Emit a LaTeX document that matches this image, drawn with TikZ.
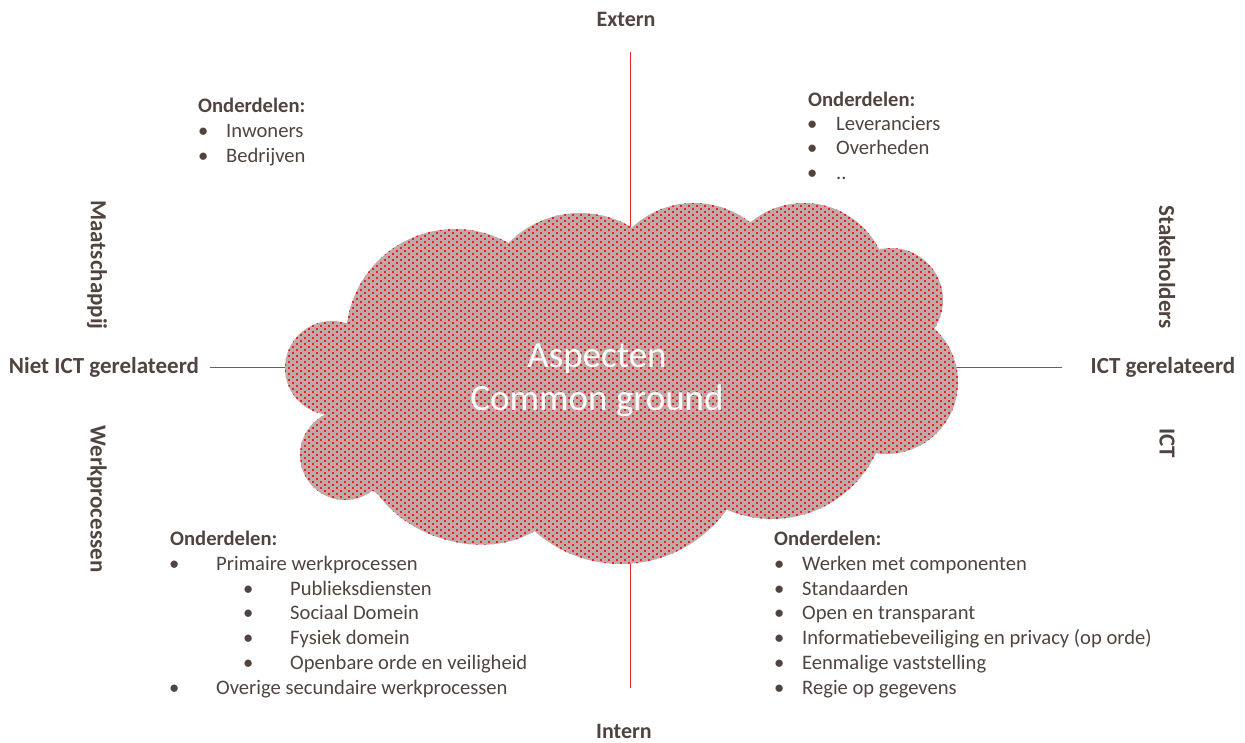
\documentclass[tikz,border=0pt]{standalone}
\usepackage{fontspec}
\setmainfont{Carlito}
\definecolor{textcol}{HTML}{4F4440}
\definecolor{linecol}{HTML}{E8262E}
\definecolor{cloudfill}{HTML}{C0AAA7}
\definecolor{dotred}{HTML}{EE1C24}
\newcommand\cloudshape{(332,368) circle (47) (345,455) circle (45) (455,338) circle (109)
  (580,313) circle (100) (694,294) circle (91) (804,287) circle (84) (891,300) circle (52)
  (886,382) circle (72) (772,404) circle (115) (621,434) circle (130)
  (600,380) circle (150) (760,370) circle (110) (420,420) circle (85)
  (465,462) circle [x radius=105, y radius=80, rotate=-18]}
\begin{document}
\begin{tikzpicture}[x=1pt,y=-1pt,
  txt/.style={anchor=base west,inner sep=0pt,text=textcol,font=\fontsize{20.6}{24}\selectfont},
  hdr/.style={anchor=base west,inner sep=0pt,text=textcol,font=\fontsize{20.6}{24}\selectfont\bfseries},
  axislabel/.style={inner sep=0pt,text=textcol,font=\fontsize{23}{27}\selectfont\bfseries},
  axislabelv/.style={inner sep=0pt,text=textcol,font=\fontsize{22}{26}\selectfont\bfseries},
  axisline/.style={draw=linecol,line width=1.3pt},
  dotrow/.style={draw=dotred,line width=2pt,dash pattern=on 2pt off 6pt}]
\useasboundingbox (0,0) rectangle (1245,742);
% axis lines
\coordinate (top) at (630.5,52);
\coordinate (bot) at (630.5,688);
\coordinate (lft) at (210,367.5);
\coordinate (rgt) at (1062,367.5);
\draw[axisline] (top) -- (bot);
\draw[axisline] (lft) -- (rgt);
% cloud
\fill[cloudfill] \cloudshape;
\begin{scope}
\clip \cloudshape;
\foreach \i in {0,...,125} {
  \pgfmathsetmacro{\yy}{200+3*\i}
  \pgfmathsetmacro{\ph}{4*mod(\i,2)}
  \draw[dotrow,dash phase=\ph pt] (280,\yy) -- (962,\yy);
}
\end{scope}
\node[text=white,align=center,font=\fontsize{37}{43}\selectfont] (cloudtxt) at (597,380) {Aspecten\\Common ground};
% axis labels
\node[axislabelv] (extern) at (626,19) {Extern};
\node[axislabelv] (intern) at (624,731) {Intern};
\node[axislabel] (niet) at (104,367) {Niet ICT gerelateerd};
\node[axislabel] (ict) at (1163,367) {ICT gerelateerd};
\node[axislabel,rotate=-90] (maat) at (97,265) {Maatschappij};
\node[axislabel,rotate=-90] (werk) at (97,499) {Werkprocessen};
\node[axislabel,rotate=-90] (stake) at (1167,267) {Stakeholders};
\node[axislabel,rotate=-90] (ictv) at (1167,443) {ICT};
% top-left list
\node[hdr] (tlh) at (198,112) {Onderdelen:};
\node[txt] (tlb1) at (198,137) {•};
\node[txt] (tlt1) at (226,137) {Inwoners};
\node[txt] (tlb2) at (198,162) {•};
\node[txt] (tlt2) at (226,162) {Bedrijven};
% top-right list
\node[hdr] (trh) at (808,106) {Onderdelen:};
\node[txt] (trb1) at (807,130) {•};
\node[txt] (trt1) at (836,130) {Leveranciers};
\node[txt] (trb2) at (807,154) {•};
\node[txt] (trt2) at (836,154) {Overheden};
\node[txt] (trb3) at (807,179) {•};
\node[txt] (trt3) at (836,179) {..};
% bottom-left list
\node[hdr] (blh) at (170,545) {Onderdelen:};
\node[txt] (blb1) at (169,570) {•};
\node[txt] (blt1) at (216,570) {Primaire werkprocessen};
\node[txt] (blb2) at (243,595) {•};
\node[txt] (blt2) at (290,595) {Publieksdiensten};
\node[txt] (blb3) at (243,619) {•};
\node[txt] (blt3) at (290,619) {Sociaal Domein};
\node[txt] (blb4) at (243,644) {•};
\node[txt] (blt4) at (290,644) {Fysiek domein};
\node[txt] (blb5) at (243,669) {•};
\node[txt] (blt5) at (290,669) {Openbare orde en veiligheid};
\node[txt] (blb6) at (169,694) {•};
\node[txt] (blt6) at (216,694) {Overige secundaire werkprocessen};
% bottom-right list
\node[hdr] (brh) at (774,545) {Onderdelen:};
\node[txt] (brb1) at (774,570) {•};
\node[txt] (brt1) at (802,570) {Werken met componenten};
\node[txt] (brb2) at (774,595) {•};
\node[txt] (brt2) at (802,595) {Standaarden};
\node[txt] (brb3) at (774,619) {•};
\node[txt] (brt3) at (802,619) {Open en transparant};
\node[txt] (brb4) at (774,644) {•};
\node[txt] (brt4) at (802,644) {Informatiebeveiliging en privacy (op orde)};
\node[txt] (brb5) at (774,669) {•};
\node[txt] (brt5) at (802,669) {Eenmalige vaststelling};
\node[txt] (brb6) at (774,694) {•};
\node[txt] (brt6) at (802,694) {Regie op gegevens};
\end{tikzpicture}
\end{document}
